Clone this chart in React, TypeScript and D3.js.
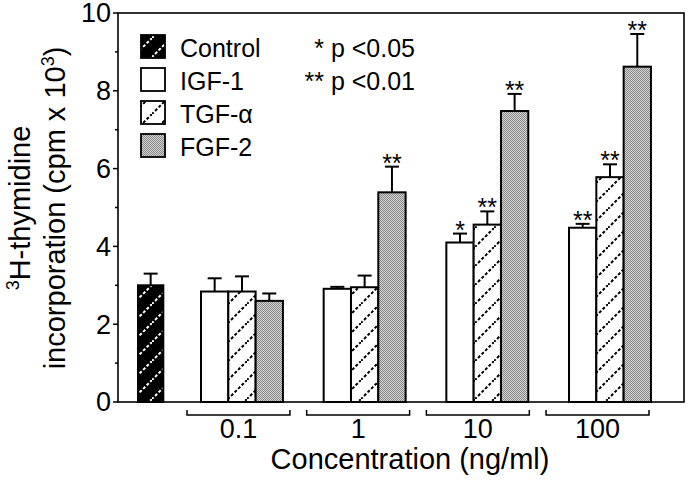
import React from "react";
import * as d3 from "d3";

const concentrations = ["0.1", "1", "10", "100"];
const seriesNames = ["IGF-1", "TGF-α", "FGF-2"];
const controlValue = 3.0;
const controlErr = 0.3;
const igf1 = [2.84, 2.91, 4.1, 4.48];
const igf1Err = [0.34, 0.05, 0.23, 0.1];
const tgfa = [2.84, 2.95, 4.56, 5.78];
const tgfaErr = [0.39, 0.3, 0.34, 0.33];
const fgf2 = [2.6, 5.39, 7.48, 8.62];
const fgf2Err = [0.19, 0.66, 0.44, 0.84];
const igf1Sig = ["", "", "*", "**"];
const tgfaSig = ["", "", "**", "**"];
const fgf2Sig = ["", "**", "**", "**"];
const yTicks = [0, 2, 4, 6, 8, 10];
const yMinorTicks = [1, 3, 5, 7, 9];

const W = 691;
const H = 487;
const FONT = "'Liberation Sans', Arial, Helvetica, sans-serif";

export default function App() {
  const left = 118, right = 684, top = 13, bottom = 402;
  const y = d3.scaleLinear().domain([0, 10]).range([bottom, top]);
  const step = 122.67;
  const pi = 0.332;
  const x0 = 201 - step * pi / 2;
  const x = d3.scaleBand<string>().domain(concentrations)
    .range([x0, x0 + step * concentrations.length]).paddingInner(pi).paddingOuter(pi / 2);
  const xs = d3.scaleBand<string>().domain(seriesNames).range([0, x.bandwidth()]);
  const bw = xs.bandwidth();
  const bracket = d3.scaleBand<string>().domain(concentrations)
    .range([187, 649]).paddingInner(0.14).paddingOuter(0);
  const controlX = 138;

  const series = [
    { name: "IGF-1", vals: igf1, errs: igf1Err, sig: igf1Sig, fill: "#fff" },
    { name: "TGF-α", vals: tgfa, errs: tgfaErr, sig: tgfaSig, fill: "url(#hatchBlack)" },
    { name: "FGF-2", vals: fgf2, errs: fgf2Err, sig: fgf2Sig, fill: "url(#stipple)" },
  ];

  const legend = [
    { name: "Control", fill: "url(#hatchWhite)" },
    { name: "IGF-1", fill: "#fff" },
    { name: "TGF-α", fill: "url(#hatchBlack)" },
    { name: "FGF-2", fill: "url(#stipple)" },
  ];

  const errBar = (cx: number, v: number, e: number, key: string) => (
    <g key={key} stroke="#000" strokeWidth={2}>
      <line x1={cx} x2={cx} y1={y(v)} y2={y(v + e)} />
      <line x1={cx - 7} x2={cx + 7} y1={y(v + e)} y2={y(v + e)} />
    </g>
  );

  return (
    <svg width={W} height={H} style={{ position: "absolute", left: 0, top: 0, background: "#fff" }}
      fontFamily={FONT}>
      <defs>
        <pattern id="hatchBlack" patternUnits="userSpaceOnUse" width={19} height={19}>
          <rect width={19} height={19} fill="#fff" />
          <path d="M-4,23 L23,-4" stroke="#000" strokeWidth={2} strokeDasharray="3,2" />
        </pattern>
        <pattern id="hatchWhite" patternUnits="userSpaceOnUse" width={19} height={19}>
          <rect width={19} height={19} fill="#000" />
          <path d="M-4,23 L23,-4" stroke="#fff" strokeWidth={2} strokeDasharray="3,2" />
        </pattern>
        <pattern id="stipple" patternUnits="userSpaceOnUse" width={2} height={2}>
          <rect width={2} height={2} fill="#d2d2d2" />
          <rect width={1} height={1} fill="#8a8a8a" />
          <rect x={1} y={1} width={1} height={1} fill="#8a8a8a" />
        </pattern>
      </defs>

      {/* frame */}
      <rect x={left} y={top} width={right - left} height={bottom - top} fill="none" stroke="#000" strokeWidth={1.6} />

      {/* y ticks */}
      {yTicks.map((t) => (
        <g key={"t" + t}>
          <line x1={left - 5} x2={left} y1={y(t)} y2={y(t)} stroke="#000" strokeWidth={1.5} />
          <text x={left - 7} y={y(t)} dy="0.35em" textAnchor="end" fontSize={27}>{t}</text>
        </g>
      ))}
      {yMinorTicks.map((t) => (
        <line key={"m" + t} x1={left - 3} x2={left} y1={y(t)} y2={y(t)} stroke="#000" strokeWidth={1.5} />
      ))}

      {/* control bar */}
      <rect x={controlX} y={y(controlValue)} width={bw - 2} height={y(0) - y(controlValue)}
        fill="url(#hatchWhite)" stroke="#000" strokeWidth={2} />
      {errBar(controlX + (bw - 2) / 2, controlValue, controlErr, "ce")}

      {/* grouped bars */}
      {concentrations.map((c, i) => (
        <g key={c}>
          {series.map((s) => {
            const bx = (x(c) as number) + (xs(s.name) as number);
            return (
              <g key={s.name}>
                <rect x={bx} y={y(s.vals[i])} width={bw} height={y(0) - y(s.vals[i])}
                  fill={s.fill} stroke="#000" strokeWidth={2} />
                {errBar(bx + bw / 2, s.vals[i], s.errs[i], "e")}
                {s.sig[i] && (
                  <text x={bx + bw / 2} y={y(s.vals[i] + s.errs[i]) + 5} textAnchor="middle" fontSize={25}>
                    {s.sig[i]}
                  </text>
                )}
              </g>
            );
          })}
        </g>
      ))}

      {/* brackets and concentration labels */}
      {concentrations.map((c) => {
        const bx = bracket(c) as number;
        const bwid = bracket.bandwidth();
        return (
          <g key={"b" + c}>
            <path d={`M${bx},${410} V${415} H${bx + bwid} V${410}`} fill="none" stroke="#000" strokeWidth={1.5} />
            <text x={bx + bwid / 2} y={438} textAnchor="middle" fontSize={27}>{c}</text>
          </g>
        );
      })}
      <text x={410} y={469} textAnchor="middle" fontSize={29}>Concentration (ng/ml)</text>

      {/* y label */}
      <g transform="translate(30,208) rotate(-90)">
        <text textAnchor="middle" fontSize={29}>
          <tspan fontSize={18} dy={-11}>3</tspan>
          <tspan dy={11}>H-thymidine</tspan>
        </text>
      </g>
      <g transform="translate(65,208) rotate(-90)">
        <text textAnchor="middle" fontSize={29}>
          <tspan>incorporation (cpm x 10</tspan>
          <tspan fontSize={18} dy={-11}>3</tspan>
          <tspan dy={11}>)</tspan>
        </text>
      </g>

      {/* legend */}
      {legend.map((l, i) => (
        <g key={"l" + i}>
          <rect x={141} y={35 + i * 33} width={24} height={23} fill={l.fill} stroke="#000" strokeWidth={1.8} />
          <text x={180} y={57 + i * 33} fontSize={25}>{l.name}</text>
        </g>
      ))}
      <text x={415} y={57} textAnchor="end" fontSize={25}>* p &lt;0.05</text>
      <text x={415} y={90} textAnchor="end" fontSize={25}>** p &lt;0.01</text>
    </svg>
  );
}
